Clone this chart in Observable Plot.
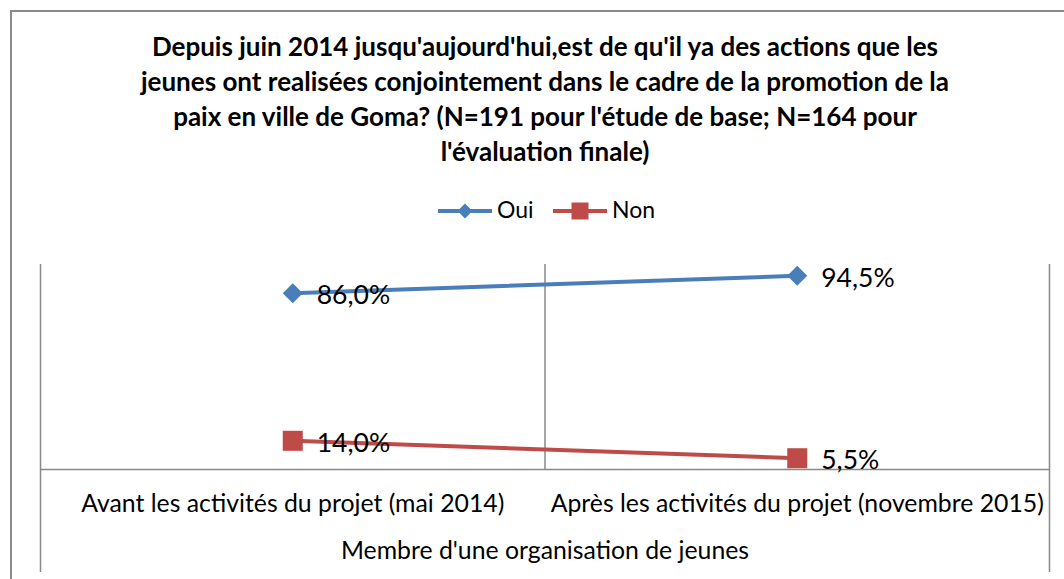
<!DOCTYPE html>
<html>
<head>
<meta charset="utf-8">
<script src="https://cdn.jsdelivr.net/npm/d3@7"></script>
<script src="https://cdn.jsdelivr.net/npm/@observablehq/plot@0.6"></script>
<style>
  html, body { margin: 0; padding: 0; background: #fff; }
  body { width: 1064px; height: 579px; overflow: hidden; position: relative; font-family: Lato, "Open Sans", sans-serif; color: #000; }
  #border { position: absolute; left: 10px; top: 10px; width: 1100px; height: 620px; border-left: 2px solid #8a8a8a; border-top: 2px solid #8a8a8a; box-sizing: border-box; }
  #title { position: absolute; left: 0; top: 29px; width: 1090px; text-align: center; font-weight: bold; font-size: 26px; line-height: 35px; white-space: nowrap; }
  #legend { position: absolute; left: 0; top: 190px; }
  #chart { position: absolute; left: 0; top: 234px; }
</style>
</head>
<body>
<div id="border"></div>
<div id="title"></div>
<div id="legend"></div>
<div id="chart"></div>
<script>
const titleLines = [
  "Depuis juin 2014 jusqu'aujourd'hui,est de qu'il ya des actions que les",
  "jeunes ont realisées conjointement dans le cadre de la promotion de la",
  "paix en ville de Goma? (N=191 pour l'étude de base; N=164 pour",
  "l'évaluation finale)"
];
const categories = [
  "Avant les activités du projet (mai 2014)",
  "Après les activités du projet (novembre 2015)"
];
const axisTitle = "Membre d'une organisation de jeunes";
const seriesNames = ["Oui", "Non"];
const ouiValues = [86.0, 94.5];
const nonValues = [14.0, 5.5];
const seriesColors = ["#4a7ebb", "#be4b48"];
const seriesSymbols = ["diamond2", "square"];

const seriesValues = [ouiValues, nonValues];
const rows = seriesNames.flatMap((s, si) =>
  seriesValues[si].map((v, i) => ({ series: s, cat: categories[i], pos: i + 0.5, value: v }))
);
const fmt = v => v.toFixed(1).replace(".", ",") + "%";

// Title
d3.select("#title").html(titleLines.join("<br>"));

// Legend
const leg = d3.select("#legend").append("svg").attr("width", 1064).attr("height", 40);
seriesNames.forEach((s, i) => {
  const x0 = 438 + i * 115;
  const g = leg.append("g");
  g.append("line").attr("x1", x0).attr("x2", x0 + 54).attr("y1", 21).attr("y2", 21)
    .attr("stroke", seriesColors[i]).attr("stroke-width", 4);
  const sym = i === 0 ? d3.symbolDiamond2 : d3.symbolSquare;
  const size = i === 0 ? 143 : 289;
  g.append("path").attr("d", d3.symbol(sym, size)()).attr("transform", `translate(${x0 + 27},21)`)
    .attr("fill", seriesColors[i]);
  g.append("text").attr("x", x0 + 59).attr("y", 28).attr("font-size", 23)
    .attr("font-family", "Lato, 'Open Sans', sans-serif").attr("fill", "#000").text(s);
});

// Chart
const grid = { stroke: "#898989", strokeWidth: 1.5, strokeOpacity: 1 };
const chart = Plot.plot({
  width: 1064,
  height: 345,
  marginTop: 30,
  marginBottom: 110,
  marginLeft: 40,
  marginRight: 15,
  x: { domain: [0, categories.length], axis: null },
  y: { domain: [0, 100], axis: null },
  color: { domain: seriesNames, range: seriesColors },
  symbol: { domain: seriesNames, range: seriesSymbols },
  style: { fontFamily: "Lato, 'Open Sans', sans-serif", background: "transparent", color: "#000", overflow: "visible" },
  marks: [
    Plot.ruleX([0, categories.length], { ...grid, insetBottom: -103 }),
    Plot.ruleX(d3.range(1, categories.length), grid),
    Plot.ruleY([0], grid),
    Plot.line(rows, { x: "pos", y: "value", z: "series", stroke: "series", strokeWidth: 4 }),
    Plot.dot(rows.filter(d => d.series === seriesNames[0]), { x: "pos", y: "value", symbol: "series", fill: "series", r: 9 }),
    Plot.dot(rows.filter(d => d.series === seriesNames[1]), { x: "pos", y: "value", symbol: "series", fill: "series", r: 11.3 }),
    Plot.text(rows, { x: "pos", y: "value", text: d => fmt(d.value), textAnchor: "start", dx: 24, dy: 2.5, fontSize: 26.5, fill: "#000" }),
    Plot.text(categories, { x: (d, i) => i + 0.5, y: () => 0, text: d => d, dy: 35, fontSize: 24.8, fill: "#000" }),
    Plot.text([axisTitle], { frameAnchor: "bottom", text: d => d, dy: 89, fontSize: 24.8, fill: "#000" })
  ]
});
document.getElementById("chart").appendChild(chart);
</script>
</body>
</html>
